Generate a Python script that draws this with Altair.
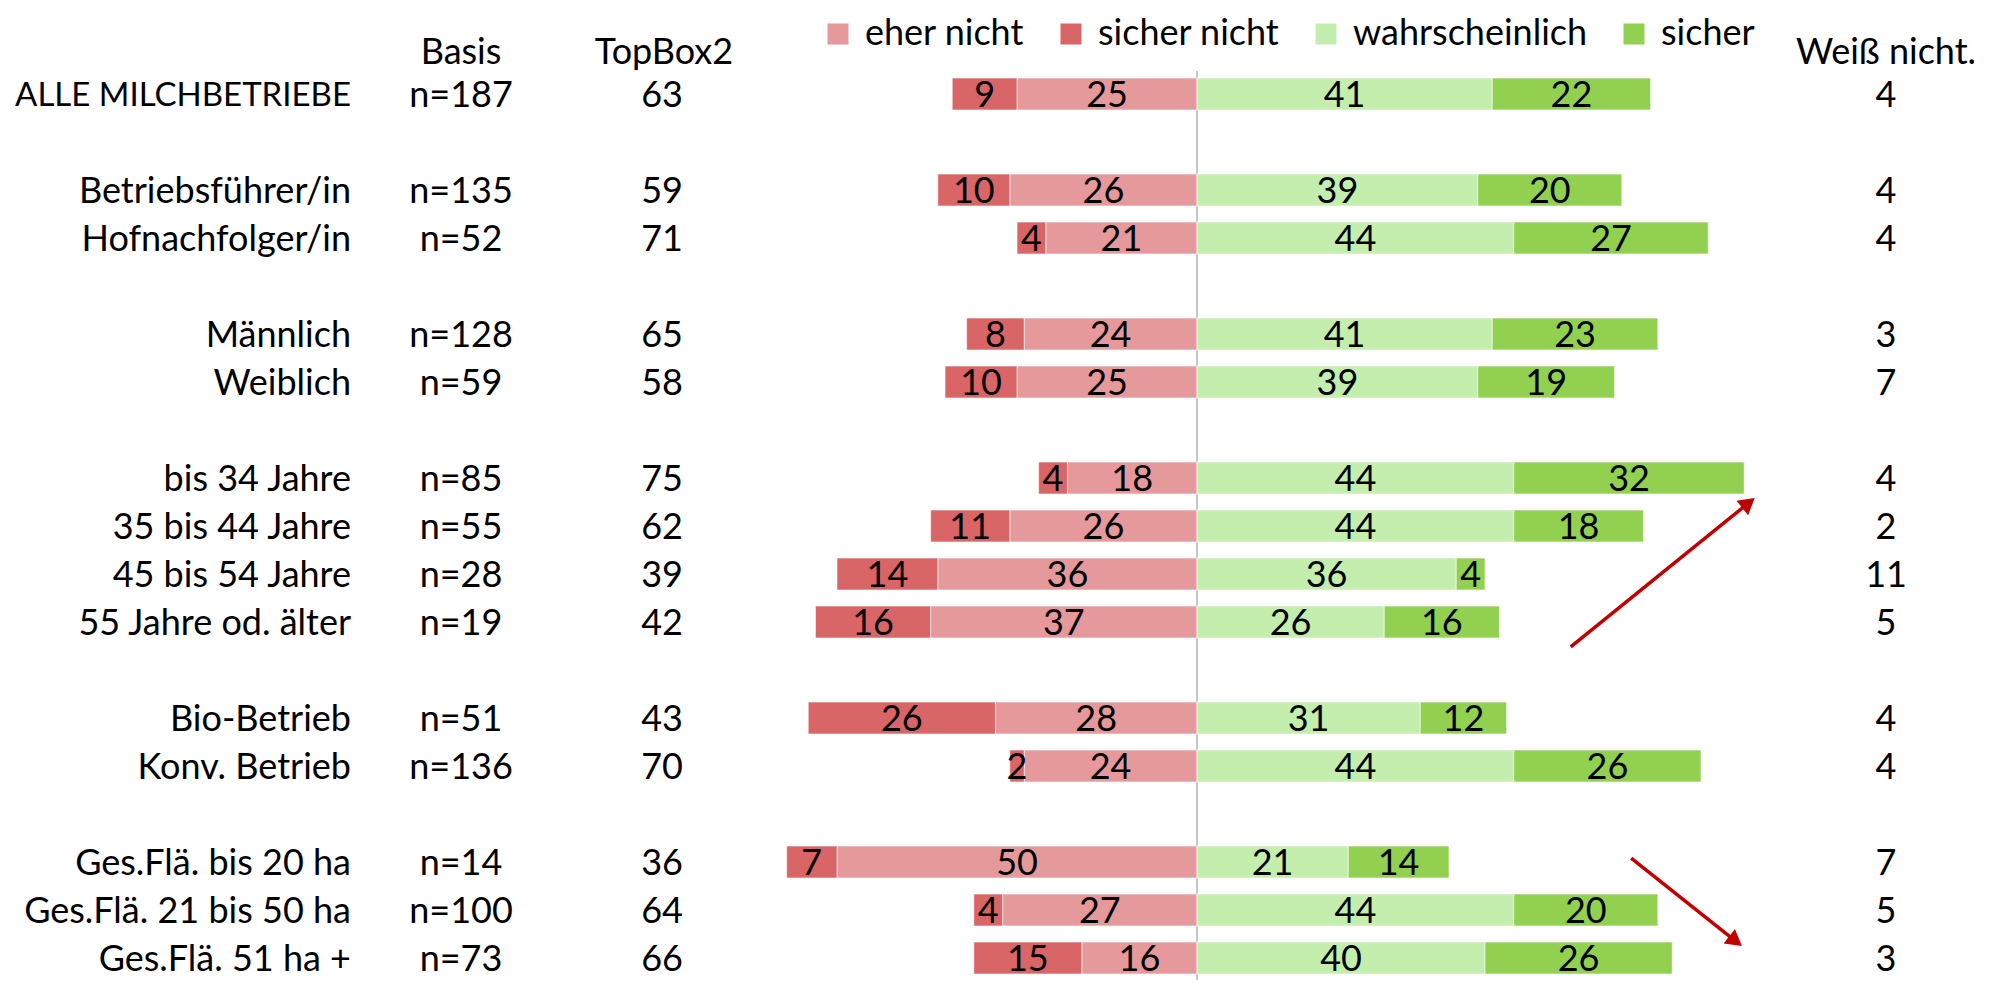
import altair as alt
import pandas as pd

# ---- data ----
groups = ["ALLE MILCHBETRIEBE", "Betriebsführer/in", "Hofnachfolger/in", "Männlich", "Weiblich",
          "bis 34 Jahre", "35 bis 44 Jahre", "45 bis 54 Jahre", "55 Jahre od. älter",
          "Bio-Betrieb", "Konv. Betrieb", "Ges.Flä. bis 20 ha", "Ges.Flä. 21 bis 50 ha", "Ges.Flä. 51 ha +"]
slots = [0, 2, 3, 5, 6, 8, 9, 10, 11, 13, 14, 16, 17, 18]
basis = [187, 135, 52, 128, 59, 85, 55, 28, 19, 51, 136, 14, 100, 73]
topbox2 = [63, 59, 71, 65, 58, 75, 62, 39, 42, 43, 70, 36, 64, 66]
sicher_nicht = [9, 10, 4, 8, 10, 4, 11, 14, 16, 26, 2, 7, 4, 15]
eher_nicht = [25, 26, 21, 24, 25, 18, 26, 36, 37, 28, 24, 50, 27, 16]
wahrscheinlich = [41, 39, 44, 41, 39, 44, 44, 36, 26, 31, 44, 21, 44, 40]
sicher = [22, 20, 27, 23, 19, 32, 18, 4, 16, 12, 26, 14, 20, 26]
weiss_nicht = [4, 4, 4, 3, 7, 4, 2, 11, 5, 4, 4, 7, 5, 3]

categories = ["eher nicht", "sicher nicht", "wahrscheinlich", "sicher"]
colors = ["#E6999A", "#D96567", "#C3EEAD", "#92D050"]

# arrow annotations (data units: percent / row slot)
arrow_x = [51.9, 60.3]
arrow_y = [11.52, 15.92]
arrow_x2 = [76.6, 74.8]
arrow_y2 = [8.52, 17.65]
arrow_angle = [51, 128]

FONT = "Lato"
FS = 36

# ---- build tables ----
seg_rows = []
for i, g in enumerate(groups):
    s = slots[i]
    en, sn, w, si = eher_nicht[i], sicher_nicht[i], wahrscheinlich[i], sicher[i]
    for cat, a, b, v in [("eher nicht", -en, 0, en), ("sicher nicht", -(en + sn), -en, sn),
                         ("wahrscheinlich", 0, w, w), ("sicher", w, w + si, si)]:
        seg_rows.append(dict(group=g, slot=s, y1=s - 0.333, y2=s + 0.333, cat=cat,
                             x1=a, x2=b, mid=(a + b) / 2, value=v))
seg = pd.DataFrame(seg_rows)

rows = pd.DataFrame(dict(group=groups, slot=slots, basis=["n=%d" % b for b in basis],
                         topbox=[str(t) for t in topbox2], wn=[str(w) for w in weiss_nicht]))
arrows = pd.DataFrame(dict(x=arrow_x, y=arrow_y, x2=arrow_x2, y2=arrow_y2, angle=arrow_angle))

xs = alt.Scale(domain=[-165.14, 108.47], nice=False, zero=False)
ys = alt.Scale(domain=[-1.7917, 18.4583], reverse=True, nice=False, zero=False)
X = lambda f: alt.X(f, type="quantitative", scale=xs, axis=None)
Y = lambda f: alt.Y(f, type="quantitative", scale=ys, axis=None)

bars = alt.Chart(seg).mark_rect(stroke="white", strokeWidth=1, strokeOpacity=0.6).encode(
    x=X("x1"), x2="x2", y=Y("y1"), y2="y2",
    color=alt.Color("cat:N", scale=alt.Scale(domain=categories, range=colors),
                    legend=alt.Legend(title=None, orient="none", legendX=812, legendY=8,
                                      direction="horizontal", symbolType="square",
                                      symbolSize=441, symbolStrokeWidth=0,
                                      labelFont=FONT, labelFontSize=FS, labelColor="black",
                                      labelOffset=9, columnPadding=28, padding=0,
                                      labelLimit=0)),
)

bar_labels = alt.Chart(seg).mark_text(font=FONT, fontSize=FS, color="black",
                                      baseline="middle", align="center", dy=2).encode(
    x=X("mid"), y=Y("slot"), text="value:Q")

center = alt.Chart(pd.DataFrame(dict(x=[0], y=[-0.479]))).mark_rule(
    color="#A0A0A0", strokeWidth=1.2).encode(x=X("x"), y=Y("y"), y2=alt.value(972))


def col_text(field, px, align, big_first=False):
    enc = dict(x=alt.value(px), y=Y("slot"), text=f"{field}:N")
    if big_first:
        enc["size"] = alt.condition(alt.datum.group == "ALLE MILCHBETRIEBE",
                                    alt.value(33), alt.value(FS))
    return alt.Chart(rows).mark_text(font=FONT, fontSize=FS, color="black",
                                     baseline="middle", align=align, dy=2).encode(**enc)


labels = col_text("group", 343, "right", big_first=True)
basis_t = col_text("basis", 453, "center")
top_t = col_text("topbox", 654, "center")
wn_t = col_text("wn", 1878, "center")


def header(text, px):
    return alt.Chart(pd.DataFrame(dict(t=[text]))).mark_text(
        font=FONT, fontSize=FS, color="black", baseline="middle", align="center").encode(
        x=alt.value(px), y=alt.value(45), text="t:N")


h1 = header("Basis", 453)
h2 = header("TopBox2", 656)
h3 = header("Weiß nicht.", 1878)

arrow_lines = alt.Chart(arrows).mark_rule(color="#C00000", strokeWidth=3.5).encode(
    x=X("x"), y=Y("y"), x2="x2", y2="y2")
arrow_heads = alt.Chart(arrows).mark_point(shape="triangle-up", filled=True, color="#C00000",
                                           size=340, opacity=1).encode(
    x=X("x2"), y=Y("y2"), angle=alt.Angle("angle:Q", scale=None))

chart = alt.layer(center, bars, bar_labels, labels, basis_t, top_t, wn_t, h1, h2, h3,
                  arrow_lines, arrow_heads).properties(
    width=1970, height=972, padding=0, autosize=alt.AutoSizeParams(type="none")
).configure_view(stroke=None)

chart.save("out.html", embed_options={"renderer": "svg", "actions": False})
